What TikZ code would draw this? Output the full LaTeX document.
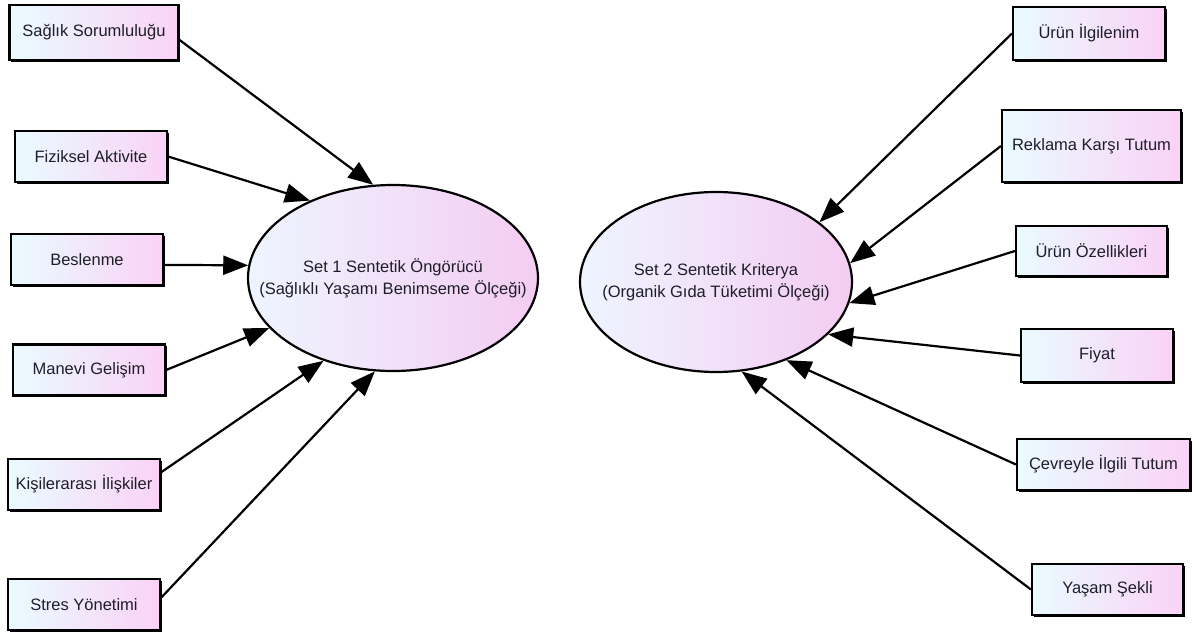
\documentclass[tikz,border=0pt]{standalone}
\usepackage{fontspec}
\setmainfont{Liberation Sans}
\usepackage{tikz}
\usetikzlibrary{arrows.meta,shapes.geometric,shadows,positioning}
\definecolor{ink}{HTML}{1E1E28}
\definecolor{boxl}{HTML}{EAFBFF}
\definecolor{boxr}{HTML}{FAD2F6}
\definecolor{elll}{HTML}{EEF5FF}
\definecolor{ellr}{HTML}{F4CCF2}
\tikzset{
  box/.style={draw=black, line width=2.2pt, left color=boxl, right color=boxr,
    minimum width=152pt, minimum height=51pt, inner sep=0pt, text=ink,
    font=\fontsize{16.5}{20}\selectfont,
    drop shadow={shadow xshift=1.8pt, shadow yshift=-1.8pt, fill=black, opacity=1}},
  ell/.style={ellipse, draw=black, line width=2.2pt, left color=elll, right color=ellr,
    inner sep=0pt},
  elltxt/.style={text=ink, align=center, inner sep=0pt, font=\fontsize{16.5}{22}\selectfont},
  arr/.style={draw=black, line width=2.2pt, -{Triangle[length=25pt,width=19pt]}},
}

\begin{document}
\begin{tikzpicture}[x=1pt,y=-1pt]
\useasboundingbox (0,0) rectangle (1195,632);
% the two synthetic variables
\node[ell, minimum width=290pt, minimum height=186pt] (set1) at (393,278) {};
\node[elltxt] (set1txt) at (set1.center)
  {Set 1 Sentetik Öngörücü\\(Sağlıklı Yaşamı Benimseme Ölçeği)};
\node[ell, minimum width=272pt, minimum height=180pt] (set2) at (716,282) {};
\node[elltxt] (set2txt) at (set2.center)
  {Set 2 Sentetik Kriterya\\(Organik Gıda Tüketimi Ölçeği)};
% set 1 scales
\node[box, minimum width=169pt, minimum height=55pt] (saglik) at (94,32.5) {Sağlık Sorumluluğu};
\node[box] (fizik) at (91,156.5) {Fiziksel Aktivite};
\node[box] (beslen) at (87,259.5) {Beslenme};
\node[box] (manevi) at (89,370) {Manevi Gelişim};
\node[box] (kisi) at (84,484.5) {Kişilerarası İlişkiler};
\node[box] (stres) at (84,604.5) {Stres Yönetimi};
% set 2 scales
\node[box, minimum height=53pt] (urun) at (1089,33.5) {Ürün İlgilenim};
\node[box, minimum width=179pt, minimum height=72pt] (reklam) at (1091.5,146) {Reklama Karşı Tutum};
\node[box, minimum width=151pt, minimum height=50pt] (ozel) at (1091.5,251) {Ürün Özellikleri};
\node[box, minimum height=53pt] (fiyat) at (1097,355.5) {Fiyat};
\node[box, minimum width=173pt] (cevre) at (1103.5,464.5) {Çevreyle İlgili Tutum};
\node[box, minimum width=151pt] (yasam) at (1107.5,589.5) {Yaşam Şekli};
% arrows into set 1
\draw[arr] (saglik.-5) -- (set1.102);
\draw[arr] (fizik.east) -- (set1.137);
\draw[arr] (beslen.-4) -- (set1.175);
\draw[arr] (manevi.east) -- (set1.202);
\draw[arr] (kisi.9) -- (set1.230);
\draw[arr] (stres.5) -- (set1.259);
% arrows into set 2
\draw[arr] (urun.west) -- (set2.30);
\draw[arr] (reklam.west) -- (set2.8);
\draw[arr] (ozel.west) -- (set2.-9);
\draw[arr] (fiyat.west) -- (set2.-25);
\draw[arr] (cevre.west) -- (set2.-48);
\draw[arr] (yasam.west) -- (set2.-74);
\end{tikzpicture}
\end{document}
